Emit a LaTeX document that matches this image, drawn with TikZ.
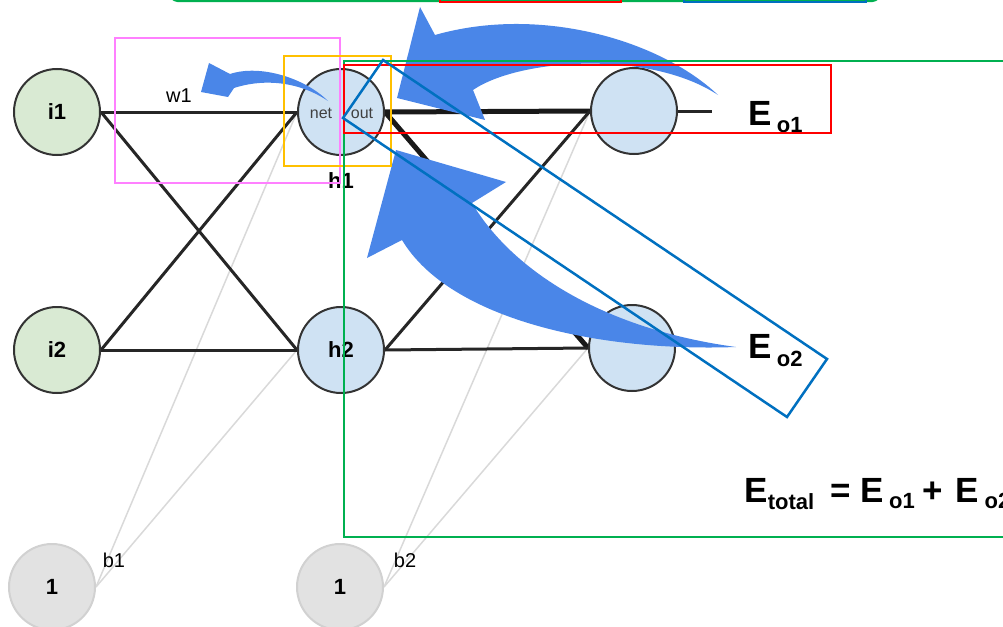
\documentclass[tikz,border=0pt]{standalone}
\usepackage{fontspec}
\setmainfont{Liberation Sans}
\usetikzlibrary{backgrounds}
\definecolor{inGreen}{RGB}{217,234,211}
\definecolor{hidBlue}{RGB}{207,226,243}
\definecolor{biasGray}{RGB}{226,226,226}
\definecolor{flowBlue}{RGB}{74,134,232}
\definecolor{boxGreen}{RGB}{0,176,80}
\definecolor{boxRed}{RGB}{255,0,0}
\definecolor{boxBlue}{RGB}{0,112,192}
\definecolor{boxPink}{RGB}{255,128,255}
\definecolor{boxOrange}{RGB}{255,192,0}

\begin{document}
\begin{tikzpicture}[x=1pt,y=-1pt,
    neuron/.style={circle,draw=black!80,line width=2pt,minimum size=86pt,inner sep=0pt,
        font=\fontsize{22}{22}\selectfont\bfseries},
    bias/.style={neuron,draw=black!18,fill=biasGray},
    wire/.style={line width=3pt,black!85},
    fatwire/.style={line width=5pt,black!90},
    biaswire/.style={line width=1.5pt,black!15},
    markbox/.style={line width=2.5pt},
    flow/.style={fill=flowBlue},
    small/.style={font=\fontsize{20}{20}\selectfont},
    big/.style={font=\fontsize{35}{35}\selectfont\bfseries}]
        \useasboundingbox (0,0) rectangle (1003,626);

        % inputs
        \node[neuron,fill=inGreen] (i1) at (57,112) {i1};
        \node[neuron,fill=inGreen] (i2) at (57,350) {i2};
        % hidden layer
        \node[neuron,fill=hidBlue] (h1) at (341,112) {};
        \node[neuron,fill=hidBlue] (h2) at (341,350) {h2};
        % outputs
        \node[neuron,fill=hidBlue] (o1) at (634,111) {};
        \node[neuron,fill=hidBlue] (o2) at (632,348) {};
        % biases
        \node[bias] (b1) at (52,587) {1};
        \node[bias] (b2) at (340,587) {1};
        \coordinate (o1tail) at (712,111);

        \begin{scope}[on background layer]
            \draw[biaswire] (b1.east) -- (h1.west);
            \draw[biaswire] (b1.east) -- (h2.west);
            \draw[biaswire] (b2.east) -- (o1.west);
            \draw[biaswire] (b2.east) -- (o2.west);

            \draw[wire] (i1.east) -- (h1.west);
            \draw[wire] (i1.east) -- (h2.west);
            \draw[wire] (i2.east) -- (h1.west);
            \draw[wire] (i2.east) -- (h2.west);
            \draw[fatwire] (h1.east) -- (o1.west);
            \draw[fatwire] (h1.east) -- (o2.west);
            \draw[wire] (h2.east) -- (o1.west);
            \draw[wire] (h2.east) -- (o2.west);
            \draw[wire] (o1.east) -- (o1tail);
        \end{scope}

        % labels
        \node[font=\fontsize{16}{16}\selectfont,text=black!75] (net) at (321,113) {net};
        \node[font=\fontsize{16}{16}\selectfont,text=black!75] (out) at (362,113) {out};
        \node[font=\fontsize{22}{22}\selectfont\bfseries] (h1lbl) at (341,181) {h1};
        \node[small] (w1) at (179,96) {w1};
        \node[small] (b1lbl) at (114,560) {b1};
        \node[small] (b2lbl) at (405,560) {b2};

        % back-propagation arrows
        \fill[flow] (328,101) .. controls (305,78) and (260,64) .. (230,74) -- (209,63)
            -- (201,92) -- (228,97) -- (234,88) .. controls (265,78) and (300,82) .. (328,101) -- cycle;
        \fill[flow] (718,95) .. controls (660,40) and (540,5) .. (435,35) -- (420,7)
            -- (397,98) -- (485,120) -- (473,90) .. controls (520,58) and (650,50) .. (718,95) -- cycle;
        \fill[flow] (736,347) .. controls (600,352) and (450,320) .. (402,240) -- (367,258)
            -- (396,150) -- (506,182) -- (472,203) .. controls (515,275) and (610,330) .. (736,347) -- cycle;

        % errors
        \node[big,anchor=base west] (eo1) at (745,125)
            {E\hspace{5pt}\raisebox{-7pt}{\fontsize{22}{22}\selectfont o1}};
        \node[big,anchor=base west] (eo2) at (745,358)
            {E\hspace{5pt}\raisebox{-8pt}{\fontsize{22}{22}\selectfont o2}};
        \node[big,anchor=base west] (etot) at (741,502)
            {E\raisebox{-7pt}{\fontsize{22}{22}\selectfont total}\hspace{16pt}=\hspace{10pt}E\hspace{5pt}\raisebox{-6pt}{\fontsize{22}{22}\selectfont o1}\hspace{8pt}+\hspace{12pt}E\hspace{6pt}\raisebox{-6pt}{\fontsize{22}{22}\selectfont o2}};

        % boxes
        \draw[markbox,boxGreen,rounded corners=14pt] (166,-60) rectangle (884,1);
        \draw[markbox,boxRed] (440,-40) rectangle (621,2);
        \draw[markbox,boxBlue] (684,-40) rectangle (866,2);
        \draw[markbox,boxPink] (115,38) rectangle (340,183);
        \draw[markbox,boxOrange] (284,56) rectangle (391,166);
        \draw[markbox,boxGreen] (344,61) rectangle (1012,537);
        \draw[markbox,boxRed] (344,65) rectangle (831,133);
        \draw[markbox,boxBlue] (343,118) -- (383,60) -- (827,359) -- (787,417) -- cycle;

    \end{tikzpicture}
\end{document}
